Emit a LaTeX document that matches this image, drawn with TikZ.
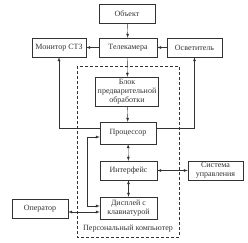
\documentclass[tikz,border=0pt]{standalone}
\usepackage{fontspec}
\setmainfont{Liberation Serif}
\begin{document}
\begin{tikzpicture}[x=1pt, y=-1pt, >=latex, black!80,
    blok/.style={draw, thin, align=center, inner sep=1pt,
        font=\fontsize{8}{8.8}\selectfont, minimum height=19pt}]
    % 1. Границы рисунка
    \useasboundingbox (0,0) rectangle (248,242);

    % 2. Персональный компьютер (штриховая рамка)
    \draw[dash pattern=on 3pt off 2pt, thin] (77,66) rectangle (179,237);
    \node[font=\fontsize{8}{8.8}\selectfont] (pc) at (128,229) {Персональный компьютер};

    % 3. Блоки
    \node[blok, minimum width=56pt] (obj) at (127,13.5) {Объект};
    \node[blok, minimum width=58pt] (cam) at (128,47.5) {Телекамера};
    \node[blok, minimum width=54pt] (mon) at (59,47.5) {Монитор СТЗ};
    \node[blok, minimum width=55pt] (osv) at (194.5,47.5) {Осветитель};
    \node[blok, minimum width=63pt, minimum height=29pt] (blk) at (127,91.5)
        {Блок\\ предварительной\\ обработки};
    \node[blok, minimum width=56pt, minimum height=22pt] (proc) at (128,133) {Процессор};
    \node[blok, minimum width=57pt] (intf) at (128.5,170.5) {Интерфейс};
    \node[blok, minimum width=55pt] (sys) at (215.5,170.5) {Система\\ управления};
    \node[blok, minimum width=57pt, minimum height=22pt] (disp) at (128.5,208) {Дисплей с\\ клавиатурой};
    \node[blok, minimum width=56pt] (oper) at (40,208.5) {Оператор};

    % 4. Связи
    \draw[->] (obj) -- (cam);
    \draw[->] (cam) -- (mon);
    \draw[->] (osv) -- (cam);
    \draw[->] (cam) -- (blk);
    \draw[->] (blk) -- (proc);
    \draw[<->] (proc) -- (intf);
    \draw[<->] (intf) -- (disp);
    \draw[<->] (intf) -- (sys);

    % Процессор -> монитор и осветитель
    \draw[->] ([yshift=5pt]proc.west) -| (mon.south);
    \draw[->] ([yshift=5pt]proc.east) -| (osv.south);

    % Петля процессор <-> дисплей
    \draw[<->] ([yshift=-4pt]proc.west) -- ++(-13,0) |- ([yshift=2pt]disp.west);

    % Оператор <-> дисплей
    \draw[<->] ([yshift=-3.5pt]oper.east) -- ([yshift=-3.5pt]oper.east -| disp.west);
\end{tikzpicture}
\end{document}
